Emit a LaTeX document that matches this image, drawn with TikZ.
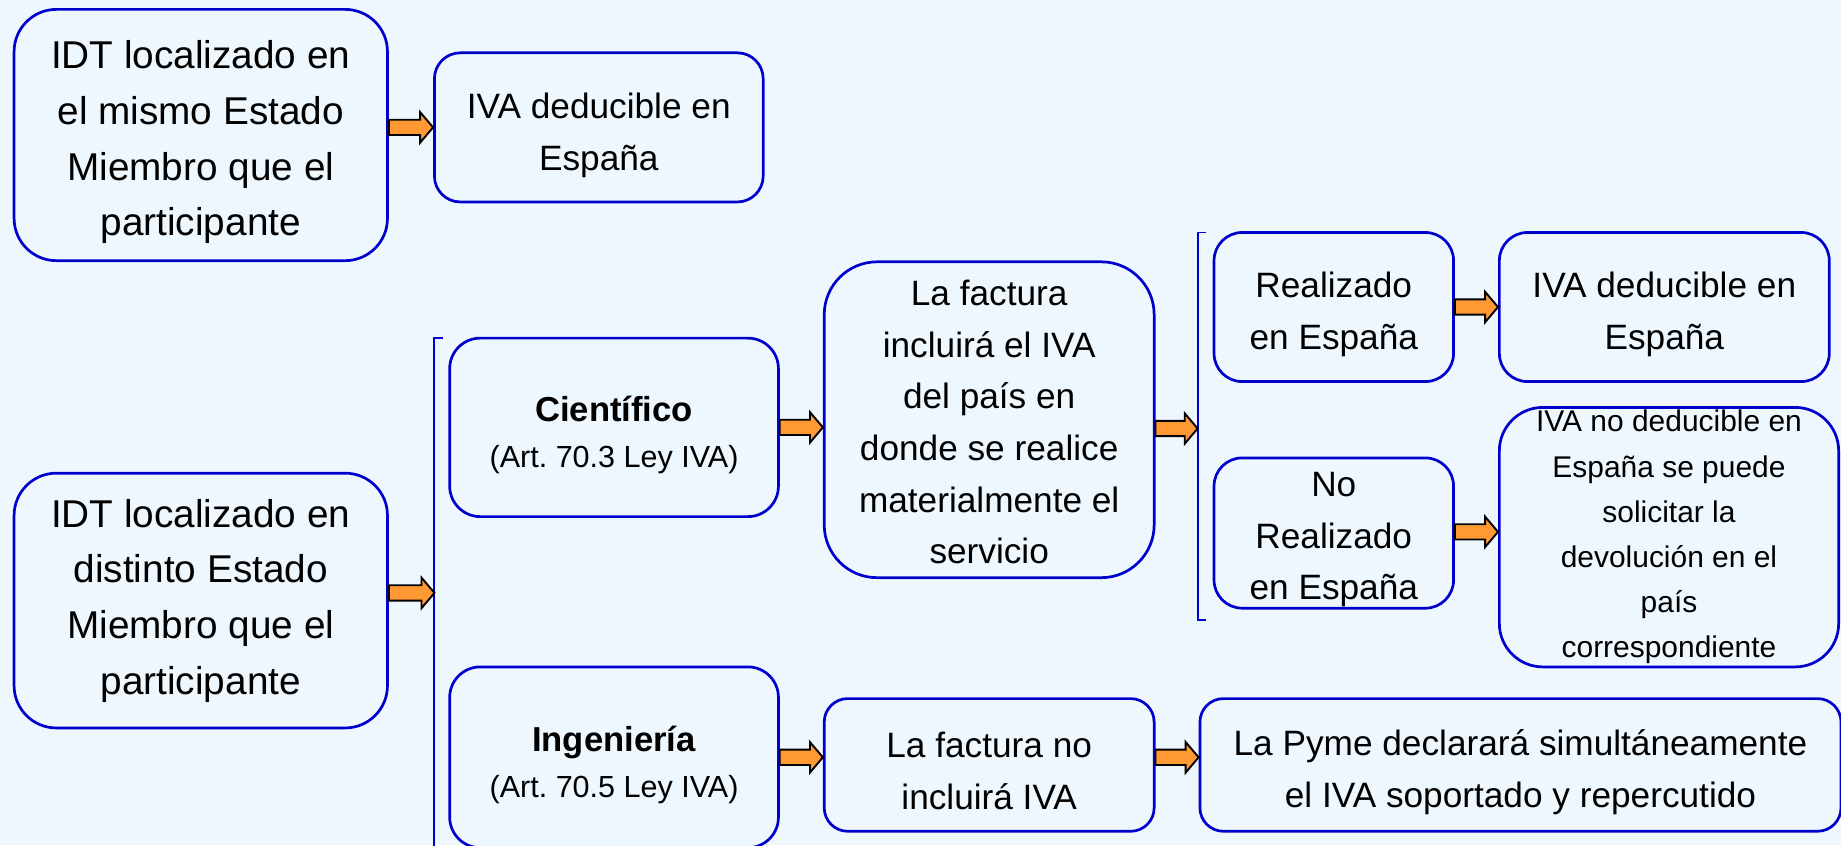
\documentclass[tikz,border=0pt]{standalone}
\usepackage{fontspec}
\setmainfont{Liberation Sans}
\definecolor{bgc}{RGB}{238,247,254}
\definecolor{bblue}{RGB}{0,0,204}
\definecolor{aorange}{RGB}{255,153,51}
\newcommand{\fbig}{\fontsize{33}{47.4}\selectfont}
\newcommand{\fmed}{\fontsize{30}{44}\selectfont}
\newcommand{\fsub}{\fontsize{26}{39}\selectfont}
\newcommand{\fsmall}{\fontsize{25.5}{38.5}\selectfont}
\newcommand{\dn}[1]{\rule{0pt}{\dimexpr 0.73em + #1pt*2\relax}}
\newcommand{\oarrow}[2]{%
  \path (#1) coordinate (oa-s) (#2) coordinate (oa-e);
  \draw[arrowsty] ([yshift=6.5pt]oa-s) -- ([xshift=-11pt,yshift=6.5pt]oa-e)
    -- ([xshift=-11pt,yshift=13pt]oa-e) -- (oa-e)
    -- ([xshift=-11pt,yshift=-13pt]oa-e) -- ([xshift=-11pt,yshift=-6.5pt]oa-e)
    -- ([yshift=-6.5pt]oa-s) -- cycle;}
\begin{document}
\begin{tikzpicture}[x=1pt,y=-1pt,
  box/.style={draw=bblue, line width=2.3pt, fill=bgc, align=center, inner sep=0pt, text=black},
  arrowsty/.style={draw=black, line width=1.6pt, fill=aorange, line join=miter},
  brk/.style={draw=bblue, line width=1.6pt}]
\fill[bgc] (0,0) rectangle (1568,720);
\useasboundingbox (0,0) rectangle (1568,720);

\node[box, minimum width=318pt, minimum height=214pt, rounded corners=36pt, font=\fbig] (a1) at (171,115)
  {\dn{6}IDT localizado en\\el mismo Estado\\Miembro que el\\participante};
\node[box, minimum width=280pt, minimum height=127pt, rounded corners=22pt, font=\fmed] (a2) at (510,108.5)
  {\dn{7}IVA deducible en\\España};

\node[box, minimum width=318pt, minimum height=217pt, rounded corners=36pt, font=\fbig] (b1) at (171,511.5)
  {IDT localizado en\\distinto Estado\\Miembro que el\\participante};

\node[box, minimum width=280pt, minimum height=152pt, rounded corners=26pt, font=\fsub] (c1) at (523,364)
  {\dn{8}\textbf{\fontsize{29.5}{39}\selectfont Científico}\\(Art.\ 70.3 Ley IVA)};
\node[box, minimum width=280pt, minimum height=154pt, rounded corners=26pt, font=\fsub] (c2) at (523,645)
  {\dn{8}\textbf{\fontsize{29.5}{39}\selectfont Ingeniería}\\(Art.\ 70.5 Ley IVA)};

\node[box, minimum width=281pt, minimum height=269pt, rounded corners=45pt, font=\fmed] (d1) at (842.5,357.5)
  {\dn{2}La factura\\incluirá el IVA\\del país en\\donde se realice\\materialmente el\\servicio};
\node[box, minimum width=281pt, minimum height=113pt, rounded corners=20pt, font=\fmed] (d2) at (842.5,651.5)
  {\dn{5}La factura no\\incluirá IVA};

\node[box, minimum width=204pt, minimum height=127pt, rounded corners=24pt, font=\fmed] (e1) at (1136,261.5)
  {\dn{6}Realizado\\en España};
\node[box, minimum width=204pt, minimum height=128pt, rounded corners=24pt, font=\fmed] (e2) at (1136,454)
  {\dn{5}No\\Realizado\\en España};

\node[box, minimum width=281pt, minimum height=127pt, rounded corners=24pt, font=\fmed] (f1) at (1417.5,261.5)
  {\dn{6}IVA deducible en\\España};
\node[box, minimum width=289pt, minimum height=221pt, rounded corners=37pt, font=\fsmall] (f2) at (1421.5,457.5)
  {IVA no deducible en\\España se puede\\solicitar la\\devolución en el\\país\\correspondiente};

\node[box, minimum width=546pt, minimum height=113pt, rounded corners=20pt, font=\fmed] (g) at (1295,651.5)
  {\dn{6}La Pyme declarará simultáneamente\\el IVA soportado y repercutido};

% brackets
\coordinate (br1) at (370,505);
\coordinate (br2) at (1020,365);
\draw[brk] (377,288) -- (370,288) -- (370,725);
\draw[brk] (1027,198) -- (1020,198) -- (1020,528) -- (1027,528);

% arrows
\oarrow{a1.east |- a2.west}{a2.west}
\oarrow{b1.east |- br1}{br1}
\oarrow{c1.east}{d1.west |- c1.east}
\oarrow{d1.east |- br2}{br2}
\oarrow{e1.east}{f1.west |- e1.east}
\oarrow{e2.east |- 0,453}{f2.west |- 0,453}
\oarrow{c2.east |- 0,645}{d2.west |- 0,645}
\oarrow{d2.east |- 0,645}{g.west |- 0,645}
\end{tikzpicture}
\end{document}
